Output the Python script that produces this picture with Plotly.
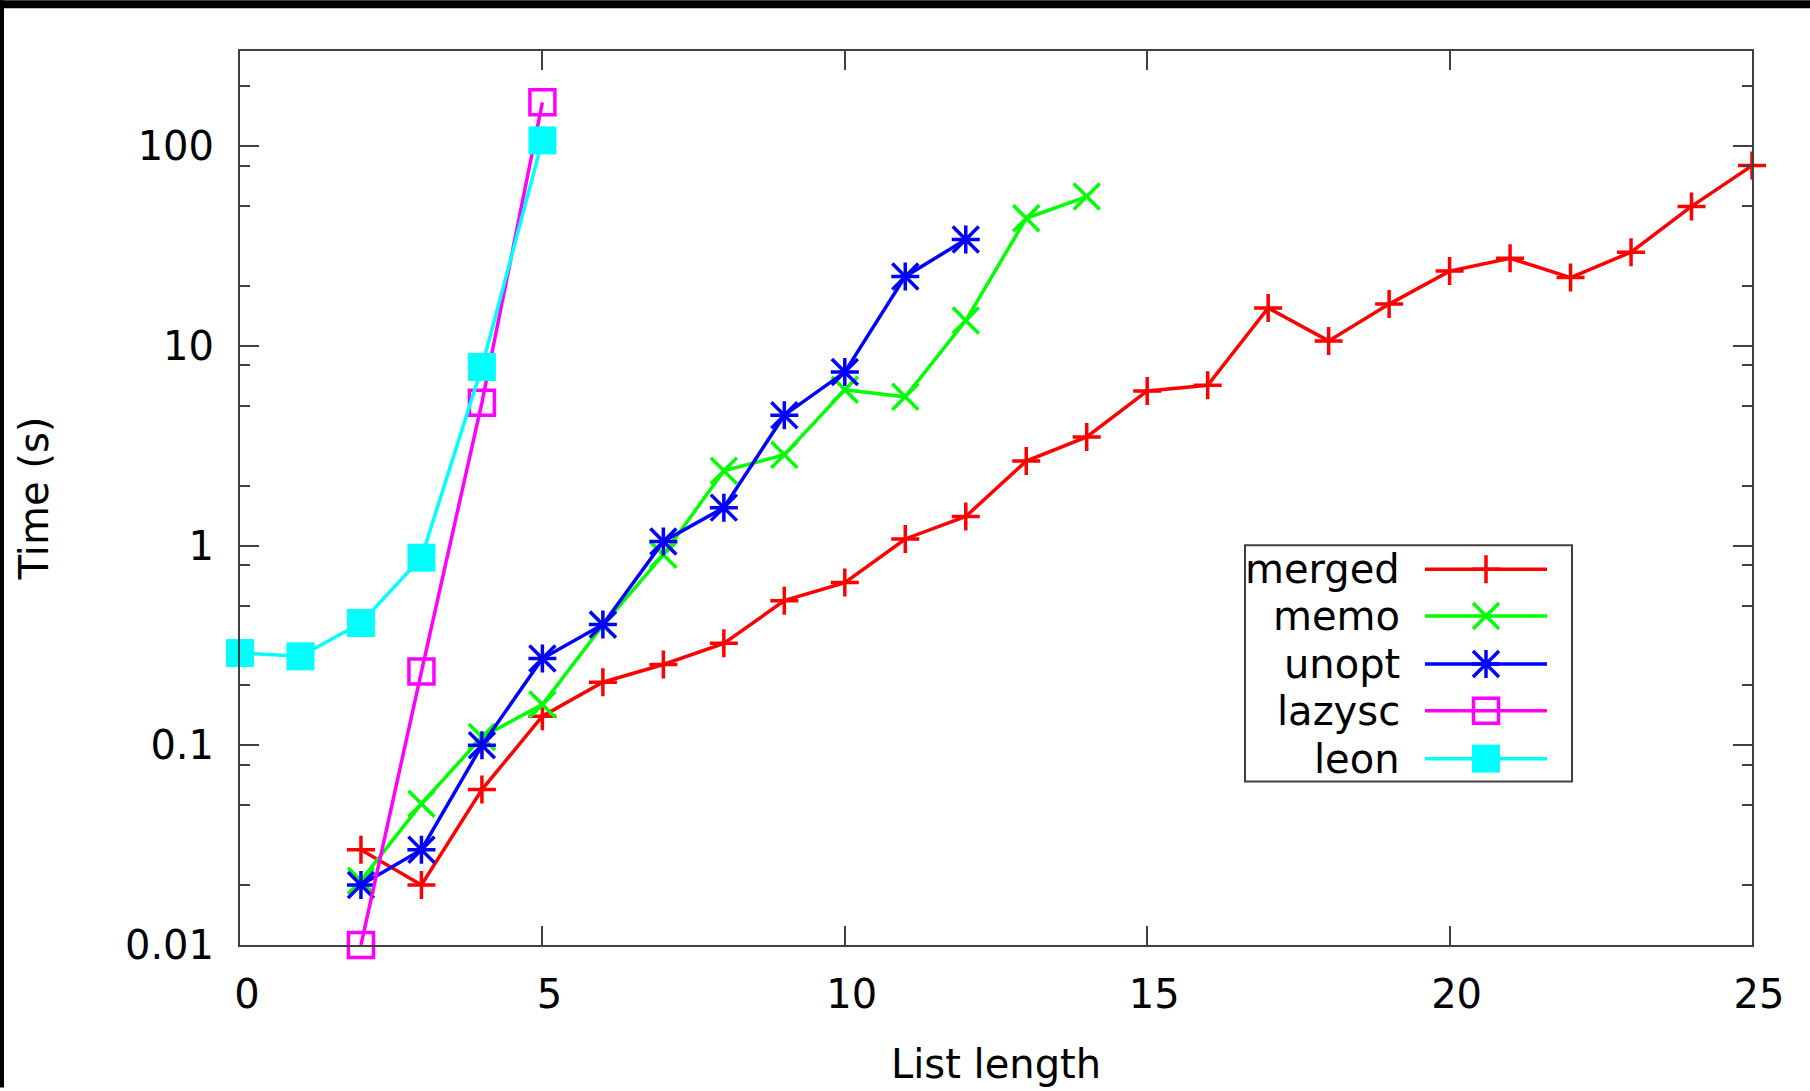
import math
import plotly.graph_objects as go

# ---------------- data ----------------
merged_x = list(range(2, 26))
merged_y = [0.03, 0.02, 0.06, 0.14, 0.207, 0.254, 0.324, 0.53, 0.653, 1.08, 1.40,
            2.65, 3.5, 5.95, 6.35, 15.5, 10.6, 16.2, 23.7, 27.5, 22.0, 29.5, 50.0, 80.0]

memo_x = list(range(2, 15))
memo_y = [0.021, 0.051, 0.11, 0.16, 0.40, 0.90, 2.37, 2.85, 6.03, 5.56, 13.4, 43.6, 56.0]

unopt_x = list(range(2, 13))
unopt_y = [0.020, 0.030, 0.100, 0.272, 0.403, 1.05, 1.55, 4.5, 7.4, 22.3, 34.1]

lazysc_x = [2, 3, 4, 5]
lazysc_y = [0.010, 0.234, 5.2, 166.0]

leon_x = [0, 1, 2, 3, 4, 5]
leon_y = [0.29, 0.279, 0.41, 0.87, 7.85, 107.0]

series_names = ["merged", "memo", "unopt", "lazysc", "leon"]
series_colors = ["#ff0000", "#00ff00", "#0000ff", "#ff00ff", "#00ffff"]

x_ticks = [0, 5, 10, 15, 20, 25]
y_ticks = [0.01, 0.1, 1, 10, 100]
y_tick_text = ["0.01", "0.1", "1", "10", "100"]
y_minor = [m * d for d in [0.01, 0.1, 1, 10, 100] for m in (2, 5, 8)]

# ---------------- geometry (pixels) ----------------
W, H = 1810, 1091
L, R, T, B = 240, 1752, 51, 948
FONT = "DejaVu Sans"
FS = 40
AX = "#404040"
LW = 3.5

def px2paper_x(p):
    return (p - L) / (R - L)

def px2paper_y(p):
    return (B - p) / (B - T)

fig = go.Figure()

def add_series(x, y, color, symbol, size, filled=False):
    fig.add_trace(go.Scatter(
        x=x, y=y, mode="lines+markers", cliponaxis=False, showlegend=False,
        line=dict(color=color, width=LW),
        marker=dict(symbol=symbol, size=size, color=color,
                    line=dict(color=color, width=0 if filled else LW)),
    ))

def add_markers(x, y, color, symbol, size):
    fig.add_trace(go.Scatter(
        x=x, y=y, mode="markers", cliponaxis=False, showlegend=False,
        marker=dict(symbol=symbol, size=size, color=color,
                    line=dict(color=color, width=LW)),
    ))

add_series(merged_x, merged_y, series_colors[0], "cross-thin-open", 20)
add_series(memo_x, memo_y, series_colors[1], "x-thin-open", 26)
add_series(unopt_x, unopt_y, series_colors[2], "cross-thin-open", 20)
add_markers(unopt_x, unopt_y, series_colors[2], "x-thin-open", 26)
add_series(lazysc_x, lazysc_y, series_colors[3], "square-open", 25)
add_series(leon_x, leon_y, series_colors[4], "square", 28, filled=True)

# ---------------- custom legend (gnuplot style: text left, sample right) ----------------
leg_rows = [571, 618, 666, 713, 761]
leg_text_x = 1402
leg_line = (1425, 1547)
leg_mark_x = 1486
leg_symbols = [("cross-thin-open", 20, False), ("x-thin-open", 26, False),
               ("cross-thin-open", 20, False), ("square-open", 25, False),
               ("square", 28, True)]

for name, color, (sym, sz, filled), ry in zip(series_names, series_colors, leg_symbols, leg_rows):
    fig.add_trace(go.Scatter(
        x=list(leg_line), y=[ry, ry], mode="lines", xaxis="x2", yaxis="y2",
        showlegend=False, hoverinfo="skip", line=dict(color=color, width=LW)))
    fig.add_trace(go.Scatter(
        x=[leg_mark_x], y=[ry], mode="markers", xaxis="x2", yaxis="y2",
        showlegend=False, hoverinfo="skip", cliponaxis=False,
        marker=dict(symbol=sym, size=sz, color=color,
                    line=dict(color=color, width=0 if filled else LW))))
    if name == "unopt":
        fig.add_trace(go.Scatter(
            x=[leg_mark_x], y=[ry], mode="markers", xaxis="x2", yaxis="y2",
            showlegend=False, hoverinfo="skip", cliponaxis=False,
            marker=dict(symbol="x-thin-open", size=26, color=color,
                        line=dict(color=color, width=LW))))
    fig.add_annotation(x=leg_text_x, y=ry, xref="x2", yref="y2", text=name,
                       showarrow=False, xanchor="right", yanchor="middle",
                       font=dict(family=FONT, size=FS, color="black"))

shapes = [
    dict(type="rect", xref="x2", yref="y2", x0=1245, x1=1572, y0=547, y1=784,
         line=dict(color=AX, width=2), fillcolor="white", layer="below"),
    # black bands of the original screenshot
    dict(type="rect", xref="paper", yref="paper",
         x0=px2paper_x(0), x1=px2paper_x(W), y0=px2paper_y(8), y1=px2paper_y(0),
         fillcolor="black", line=dict(width=0)),
    dict(type="rect", xref="paper", yref="paper",
         x0=px2paper_x(0), x1=px2paper_x(4), y0=px2paper_y(H), y1=px2paper_y(0),
         fillcolor="black", line=dict(width=0)),
]

axis_common = dict(
    showline=True, linecolor=AX, linewidth=2, mirror="ticks",
    ticks="inside", ticklen=19, tickwidth=2, tickcolor=AX,
    showgrid=False, zeroline=False,
    tickfont=dict(family=FONT, size=FS, color="black"),
)

fig.update_layout(
    width=W, height=H,
    margin=dict(l=L, r=W - R, t=T, b=H - B, pad=0),
    paper_bgcolor="white", plot_bgcolor="white",
    font=dict(family=FONT, size=FS, color="black"),
    showlegend=False,
    shapes=shapes,
    xaxis=dict(range=[0, 25], tickvals=x_ticks, ticklabelstandoff=13, ticklabelshift=7,
               title=dict(text="List length", standoff=34,
                          font=dict(family=FONT, size=FS, color="black")),
               **axis_common),
    yaxis=dict(type="log", range=[-2, math.log10(300)], tickvals=y_ticks,
               ticktext=y_tick_text, ticklabelstandoff=16,
               minor=dict(tickvals=y_minor, ticks="inside", ticklen=10,
                          tickwidth=2, tickcolor=AX, showgrid=False),
               title=dict(text="Time (s)", standoff=64,
                          font=dict(family=FONT, size=FS, color="black")),
               **axis_common),
    xaxis2=dict(overlaying="x", anchor="y2", range=[L, R], visible=False, fixedrange=True),
    yaxis2=dict(overlaying="y", anchor="x2", range=[B, T], visible=False, fixedrange=True),
)

# make the page exactly the size of the figure (no default margin, no overflow)
page_js = (
    "[document.documentElement, document.body].forEach(function(e){"
    "e.style.margin='0';e.style.padding='0';e.style.overflow='hidden';"
    "e.style.background='white';e.style.width='1810px';e.style.height='1091px';});"
)
fig.write_html("out.html", post_script=page_js, config={"displayModeBar": False})
